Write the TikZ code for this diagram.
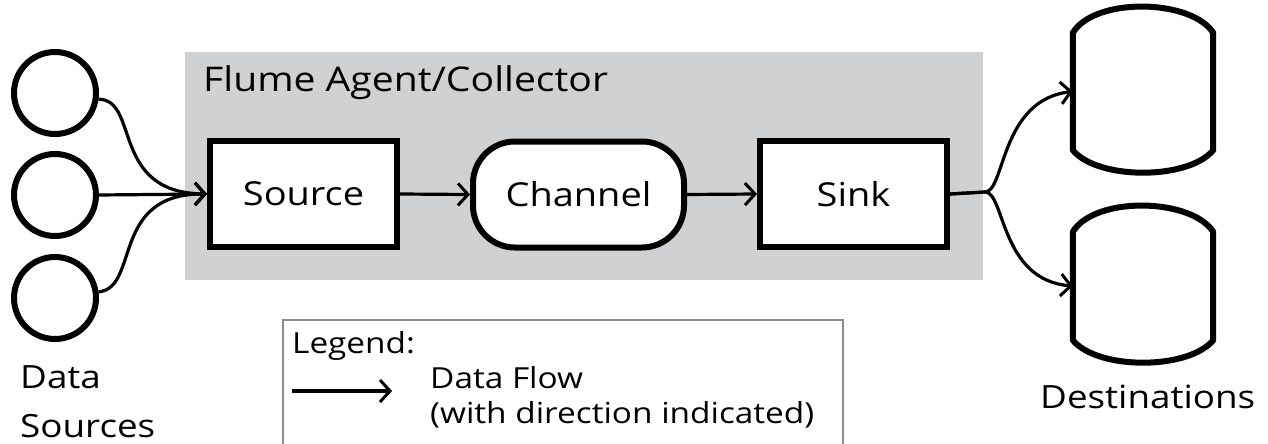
\documentclass[tikz,border=0pt]{standalone}
\usepackage{fontspec}
\setmainfont{Open Sans}[FakeStretch=1.15]
\usetikzlibrary{arrows.meta,calc}
\definecolor{agentgray}{RGB}{207,209,211}
\definecolor{legendgray}{RGB}{140,140,140}
\tikzset{
  comp/.style={draw=black, fill=white, line width=6pt, minimum width=187pt, minimum height=106pt, font=\fontsize{33}{36}\selectfont, inner sep=0pt},
  srccircle/.style={circle, draw=black, fill=white, line width=6pt, minimum size=82pt, inner sep=0pt},
  flow/.style={line width=3.2pt, -{Straight Barb[length=10pt,width=22pt,line width=3pt]}},
  destshape/.style={draw=black, fill=white, line width=6pt, line join=round},
  lbl/.style={anchor=base west, inner sep=0pt}
}
\begin{document}
\begin{tikzpicture}[x=1pt,y=-1pt]
\clip (0,0) rectangle (1268,444);
\fill[white] (0,0) rectangle (1268,444);
% agent box
\node[fill=agentgray, minimum width=798pt, minimum height=228pt, inner sep=0pt, anchor=north west] (agent) at (185,52) {};
\node[lbl, font=\fontsize{34}{36}\selectfont] (agentlbl) at (203,91) {Flume Agent/Collector};
% components
\node[comp] (src) at (303.5,194) {Source};
\node[comp, rounded corners=42pt, minimum width=211pt] (chan) at (578.5,194.5) {Channel};
\node[comp] (sink) at (853.5,194) {Sink};
% sources
\node[srccircle] (c1) at (55,93) {};
\node[srccircle] (c2) at (55,195) {};
\node[srccircle] (c3) at (55,298) {};
% destinations
\node[minimum width=140pt, minimum height=117pt, inner sep=0pt] (d1) at (1143,91.5) {};
\node[minimum width=140pt, minimum height=108pt, inner sep=0pt] (d2) at (1143,286) {};
\draw[destshape] (d1.north west) .. controls +(22,-36) and +(-22,-34) .. (d1.north east) -- (d1.south east) .. controls +(-25,30) and +(25,30) .. (d1.south west) -- cycle;
\draw[destshape] (d2.north west) .. controls +(22,-36) and +(-22,-34) .. (d2.north east) -- (d2.south east) .. controls +(-25,30) and +(25,30) .. (d2.south west) -- cycle;
% flows
\draw[flow] (c1.-8) .. controls (140,100) and (110,193) .. (src.west);
\draw[flow] (c2.east) -- (src.west);
\draw[flow] (c3.8) .. controls (140,288) and (110,193) .. (src.west);
\draw[flow] (src.east) -- (chan.west);
\draw[flow] (chan.east) -- (sink.east -| sink.west);
\coordinate (split) at (985,192);
\draw[flow] (sink.east) -- (split) .. controls (1005,192) and (1000,100) .. (d1.west);
\draw[flow] (sink.east) -- (split) .. controls (1005,192) and (1000,280) .. (d2.west);
% labels
\node[lbl, font=\fontsize{32}{36}\selectfont] (ds1) at (20,388) {Data};
\node[lbl, font=\fontsize{32}{36}\selectfont] (ds2) at (20,437) {Sources};
\node[lbl, font=\fontsize{32}{36}\selectfont] (dest) at (1040,408) {Destinations};
% legend
\draw[legendgray, line width=1.5pt] (283,460) -- (283,320) -- (843,320) -- (843,460);
\node[lbl, font=\fontsize{29}{32}\selectfont] (leg) at (292,353) {Legend:};
\coordinate (la) at (292,391);
\coordinate (lb) at (392,391);
\draw[flow] (la) -- (lb);
\node[lbl, font=\fontsize{29}{32}\selectfont] (lf1) at (430,388) {Data Flow};
\node[lbl, font=\fontsize{29}{32}\selectfont] (lf2) at (430,423) {(with direction indicated)};
\end{tikzpicture}
\end{document}
